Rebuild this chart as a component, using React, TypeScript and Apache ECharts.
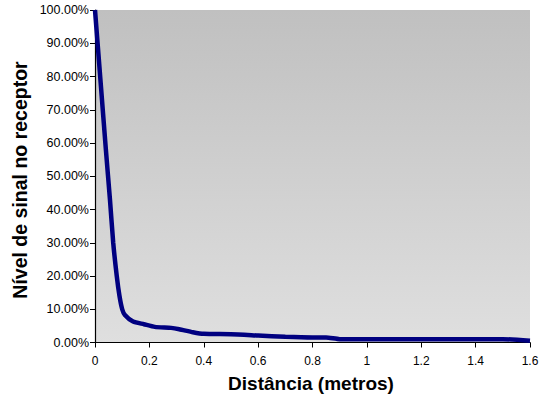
import React, { useEffect, useRef } from "react";
import * as echarts from "echarts";

const distances = [0, 0.02, 0.04, 0.055, 0.067, 0.08, 0.09, 0.1, 0.11, 0.14, 0.18, 0.22, 0.28, 0.31, 0.36, 0.4, 0.5, 0.6, 0.7, 0.8, 0.85, 0.9, 1.0, 1.2, 1.4, 1.5, 1.6];
const signalLevels = [100, 79, 58, 43, 30, 20, 14, 10, 8.3, 6.3, 5.5, 4.7, 4.4, 4.0, 3.1, 2.6, 2.5, 2.1, 1.7, 1.5, 1.5, 1.0, 1.0, 1.0, 1.0, 1.0, 0.5];

const xAxisTitle = "Distância (metros)";
const yAxisTitle = "Nível de sinal no receptor";

export default function App() {
  const ref = useRef<HTMLDivElement>(null);
  useEffect(() => {
    if (!ref.current) return;
    const chart = echarts.init(ref.current, null, { renderer: "svg" });
    const data = distances.map((d, i) => [d, signalLevels[i]]);
    chart.setOption({
      animation: false,
      backgroundColor: "#ffffff",
      textStyle: { fontFamily: "Liberation Sans, Arial, sans-serif" },
      grid: {
        left: 95,
        right: 19,
        top: 10,
        bottom: 55.5,
        show: true,
        borderWidth: 0,
        backgroundColor: new echarts.graphic.LinearGradient(0, 0, 0, 1, [
          { offset: 0, color: "#c0c0c0" },
          { offset: 1, color: "#dfdfdf" },
        ]),
      },
      xAxis: {
        type: "value",
        min: 0,
        max: 1.6,
        interval: 0.2,
        splitLine: { show: false },
        axisLine: { show: true, onZero: false, lineStyle: { color: "#000", width: 1.2 } },
        axisTick: { show: true, length: 5, lineStyle: { color: "#000" } },
        axisLabel: {
          color: "#000",
          fontSize: 12,
          margin: 12,
          formatter: (v: number) => String(Number(v.toFixed(1))),
        },
      },
      yAxis: {
        type: "value",
        min: 0,
        max: 100,
        interval: 10,
        splitLine: { show: false },
        axisLine: { show: true, onZero: false, lineStyle: { color: "#000", width: 1.2 } },
        axisTick: { show: true, length: 5, lineStyle: { color: "#000" } },
        axisLabel: {
          color: "#000",
          fontSize: 12.5,
          margin: 6,
          formatter: (v: number) => v.toFixed(2) + "%",
        },
      },
      series: [
        {
          type: "line",
          data,
          smooth: 0.2,
          showSymbol: false,
          symbol: "none",
          lineStyle: { color: "#000080", width: 4.5 },
          clip: true,
        },
      ],
      graphic: [
        {
          type: "text",
          x: 311,
          y: 383,
          style: {
            text: xAxisTitle,
            fontSize: 19,
            fontWeight: "bold",
            fontFamily: "Liberation Sans, Arial, sans-serif",
            fill: "#000",
            textAlign: "center",
            textVerticalAlign: "middle",
          },
        },
        {
          type: "text",
          x: 20,
          y: 180,
          rotation: Math.PI / 2,
          style: {
            text: yAxisTitle,
            fontSize: 19.5,
            fontWeight: "bold",
            fontFamily: "Liberation Sans, Arial, sans-serif",
            fill: "#000",
            textAlign: "center",
            textVerticalAlign: "middle",
          },
        },
      ],
    });
    return () => chart.dispose();
  }, []);
  return (
    <div
      ref={ref}
      style={{ position: "fixed", left: 0, top: 0, width: 549, height: 398 }}
    />
  );
}
